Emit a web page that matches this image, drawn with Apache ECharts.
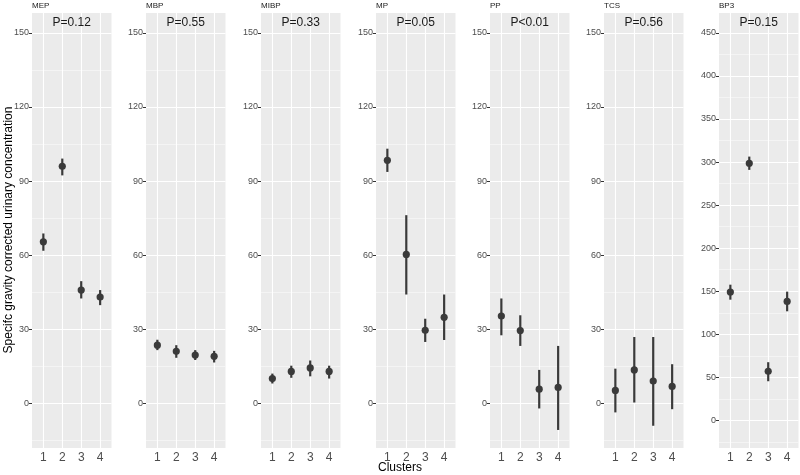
<!DOCTYPE html>
<html>
<head>
<meta charset="utf-8">
<script src="https://cdn.jsdelivr.net/npm/echarts@6/dist/echarts.min.js"></script>
<style>html,body{margin:0;padding:0;background:#fff}#c{width:800px;height:475px}</style>
</head>
<body>
<div id="c"></div>
<script>
// ---------- data ----------
const clusters = [1, 2, 3, 4];
const panelNames = ['MEP', 'MBP', 'MIBP', 'MP', 'PP', 'TCS', 'BP3'];
const pLabels = ['P=0.12', 'P=0.55', 'P=0.33', 'P=0.05', 'P<0.01', 'P=0.56', 'P=0.15'];

const mepMean = [65.4, 96.0, 45.9, 43.1];
const mepLow  = [61.8, 92.3, 42.5, 39.8];
const mepHigh = [68.8, 99.1, 49.5, 45.9];

const mbpMean = [23.6, 21.1, 19.6, 19.1];
const mbpLow  = [21.6, 18.5, 17.6, 16.6];
const mbpHigh = [25.8, 23.6, 21.6, 21.3];

const mibpMean = [10.1, 13.0, 14.4, 13.0];
const mibpLow  = [8.1, 10.4, 11.0, 10.1];
const mibpHigh = [12.1, 15.3, 17.4, 15.3];

const mpMean = [98.4, 60.3, 29.6, 34.9];
const mpLow  = [93.7, 44.1, 24.9, 25.7];
const mpHigh = [103.1, 76.2, 34.3, 44.1];

const ppMean = [35.4, 29.5, 5.8, 6.5];
const ppLow  = [27.6, 23.3, -2.0, -10.7];
const ppHigh = [42.5, 35.7, 13.6, 23.3];

const tcsMean = [5.3, 13.6, 9.1, 6.9];
const tcsLow  = [-3.6, 0.4, -9.0, -2.3];
const tcsHigh = [14.1, 26.9, 26.9, 15.9];

const bp3Mean = [149.1, 298.6, 57.1, 138.2];
const bp3Low  = [140.2, 290.9, 45.5, 126.7];
const bp3High = [157.6, 306.3, 67.6, 149.5];

const yTicksMain  = [0, 30, 60, 90, 120, 150];
const yMinorMain  = [-15, 15, 45, 75, 105, 135];
const yTicksBP3   = [0, 50, 100, 150, 200, 250, 300, 350, 400, 450];
const yMinorBP3   = [-25, 25, 75, 125, 175, 225, 275, 325, 375, 425];

const panels = [
  [mepMean, mepLow, mepHigh],
  [mbpMean, mbpLow, mbpHigh],
  [mibpMean, mibpLow, mibpHigh],
  [mpMean, mpLow, mpHigh],
  [ppMean, ppLow, ppHigh],
  [tcsMean, tcsLow, tcsHigh],
  [bp3Mean, bp3Low, bp3High]
];

// ---------- layout / style ----------
const FONT = '"Liberation Sans", Arial, sans-serif';
const lefts = [32, 146, 261, 376, 490, 604, 719];
const W = 79.5, TOP = 13, H = 435;
const PT = '#3A3A3A';

const grids = [], xAxes = [], yAxes = [], series = [], graphics = [];

panels.forEach((p, i) => {
  const isBP3 = i === 6;
  const yT = isBP3 ? yTicksBP3 : yTicksMain;
  const yM = isBP3 ? yMinorBP3 : yMinorMain;
  grids.push({left: lefts[i], top: TOP, width: W, height: H, show: true,
    backgroundColor: '#EBEBEB', borderWidth: 0});
  xAxes.push({type: 'value', gridIndex: i, min: 0.4, max: 4.6,
    axisLine: {show: false}, splitLine: {show: false},
    axisTick: {show: true, customValues: clusters, length: 3, lineStyle: {color: '#333', width: 1}},
    axisLabel: {customValues: clusters, color: '#4D4D4D', fontSize: 12, fontFamily: FONT, margin: 4}});
  yAxes.push({type: 'value', gridIndex: i,
    min: isBP3 ? -32 : -18, max: isBP3 ? 473 : 158,
    axisLine: {show: false}, splitLine: {show: false},
    axisTick: {show: true, customValues: yT, length: 3, lineStyle: {color: '#333', width: 1}},
    axisLabel: {customValues: yT, color: '#4D4D4D', fontSize: 9, fontFamily: FONT, margin: 3}});

  // gridlines
  series.push({type: 'line', xAxisIndex: i, yAxisIndex: i, data: [], z: 1, silent: true,
    markLine: {silent: true, symbol: 'none', label: {show: false}, animation: false,
      data: [
        ...yM.map(v => ({yAxis: v, lineStyle: {color: '#FAFAFA', width: 0.6, type: 'solid'}})),
        ...yT.map(v => ({yAxis: v, lineStyle: {color: '#FFFFFF', width: 1.1, type: 'solid'}})),
        ...clusters.map(v => ({xAxis: v, lineStyle: {color: '#FFFFFF', width: 1.1, type: 'solid'}}))
      ]}});

  // point ranges
  const data = clusters.map((c, k) => [c, p[1][k], p[2][k], p[0][k]]);
  series.push({type: 'custom', xAxisIndex: i, yAxisIndex: i, z: 5, data: data,
    renderItem: (params, api) => {
      const x = api.value(0);
      const a = api.coord([x, api.value(1)]);
      const b = api.coord([x, api.value(2)]);
      const c = api.coord([x, api.value(3)]);
      return {type: 'group', children: [
        {type: 'line', shape: {x1: a[0], y1: a[1], x2: b[0], y2: b[1]}, style: {stroke: PT, lineWidth: 2.2}},
        {type: 'circle', shape: {cx: c[0], cy: c[1], r: 3.6}, style: {fill: PT}}
      ]};
    }});

  graphics.push({type: 'text', left: lefts[i], top: 2, z: 100,
    style: {text: panelNames[i], fontSize: 8, fill: '#1A1A1A', fontFamily: FONT}});
  graphics.push({type: 'text', x: lefts[i] + W / 2, y: 23, z: 100,
    style: {text: pLabels[i], fontSize: 12, fill: '#1A1A1A', fontFamily: FONT, align: 'center', verticalAlign: 'middle'}});
});

graphics.push({type: 'text', x: 400, y: 468, z: 100,
  style: {text: 'Clusters', fontSize: 12, fill: '#000', fontFamily: FONT, align: 'center', verticalAlign: 'middle'}});
graphics.push({type: 'text', x: 9, y: 230, rotation: Math.PI / 2, z: 100,
  style: {text: 'Specifc gravity corrected urinary concentration', fontSize: 12, fill: '#000', fontFamily: FONT, align: 'center', verticalAlign: 'middle'}});

const chart = echarts.init(document.getElementById('c'), null, {renderer: 'canvas'});
chart.setOption({
  animation: false,
  backgroundColor: '#FFFFFF',
  grid: grids, xAxis: xAxes, yAxis: yAxes, series: series, graphic: graphics
});
</script>
</body>
</html>
